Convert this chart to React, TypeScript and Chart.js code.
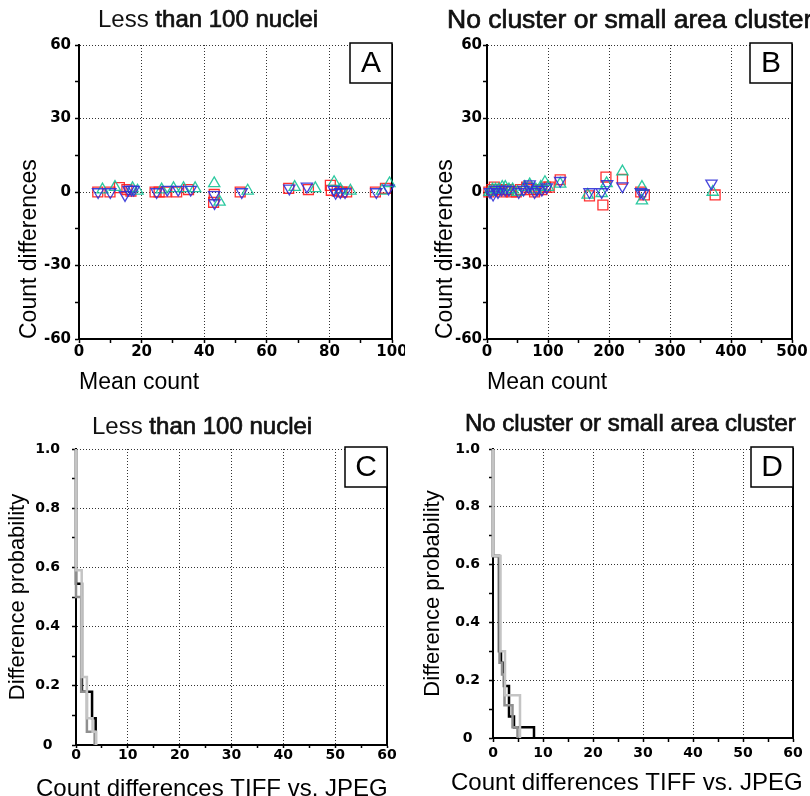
import React, { useEffect, useRef } from 'react';
import { Chart, registerables } from 'chart.js';
Chart.register(...registerables);

// ---------- Panel A: Less than 100 nuclei (mean count vs count differences) ----------
const aRedX = [6.0, 9.9, 12.9, 15.3, 16.6, 24.3, 25.6, 27.8, 31.2, 35.0, 43.2, 43.0, 51.5, 67.0, 73.3, 80.3, 80.6, 82.5, 84.0, 85.5, 94.7, 97.9];
const aRedY = [0, 0, 1.8, 1.0, 0.3, 0, 0, 0, 0, 1.0, -1.0, -4.2, 0, 1.5, 1.0, 2.7, 0.7, 0.3, 0, 0, 0, 1.5];
const aGreenX = [7.5, 11.5, 17.1, 18.7, 26.4, 30.2, 33.4, 37.1, 43.2, 44.9, 53.9, 68.9, 75.5, 81.5, 83.5, 86.7, 96.8, 99.2];
const aGreenY = [1, 2, 1.5, 0.5, 1, 1.5, 1.5, 1.5, 3.5, -4, 0.5, 2, 1.5, 4, 1, 0.5, 0.5, 3.5];
const aBlueX = [6.1, 10.0, 14.7, 15.8, 16.8, 17.5, 24.8, 28.2, 31.7, 35.7, 43.2, 43.3, 52.0, 67.2, 72.8, 81.4, 82.0, 83.5, 85.0, 95.0, 98.9];
const aBlueY = [0, 0, -1.2, 1, 1, 1, 0, 1, 1, 1, -1.2, -4.5, 0, 1.5, 2.3, 1, -0.3, 0, 0, 0, 1.5];

// ---------- Panel B: No cluster or small area cluster ----------
const bRedX = [3, 8, 12, 16, 20, 25, 30, 35, 40, 48, 55, 65, 72, 78, 84, 90, 96, 102, 120, 168, 190, 195, 222, 252, 258, 374];
const bRedY = [0, 1, 2, 1, 1, 0, 1, 1, 0, 0, 1, 2, 1, 0, 1, 1, 2, 2, 5, -1.6, -5.3, 6.1, 5.2, 0, -1.2, -1.2];
const bGreenX = [4, 9, 14, 19, 25, 30, 36, 42, 50, 62, 70, 80, 88, 95, 100, 120, 165, 188, 196, 222, 254, 254, 370];
const bGreenY = [0, 1, 1, 1, 2, 2, 1, 1, 0, 2, 3, 1, 2, 4, 2, 3.3, -1.2, -0.5, 3.5, 8.3, 2, -3.5, 0];
const bBlueX = [5, 10, 14, 18, 24, 30, 36, 52, 60, 68, 70, 78, 82, 90, 98, 120, 168, 188, 197, 222, 252, 256, 368];
const bBlueY = [0, -1, 1, 0, 1, 1, 1, 0, 1, 2.2, 3.2, 0, 1, 1, 2, 4.6, 0, 0, 3.3, 2.4, 0, -0.5, 3.5];

// ---------- Panel C: step curves (difference probability) ----------
const cLightX = [0, 0, 1.1, 2.1, 3.2, 3.9];
const cLightY = [1, 0.59, 0.23, 0.09, 0.045, 0];
const cGrayX = [0, 0, 1.0, 2.1, 3.6];
const cGrayY = [1, 0.5, 0.18, 0.045, 0];
const cBlackX = [0, 0, 1.15, 3.1, 3.8];
const cBlackY = [1, 0.545, 0.18, 0.09, 0];

// ---------- Panel D ----------
const dLightX = [0, 0, 1.5, 2.4, 5.4];
const dLightY = [1, 0.63, 0.3, 0.148, 0];
const dGrayX = [0, 0, 1.3, 1.8, 2.3, 3.9, 4.9];
const dGrayY = [1, 0.63, 0.26, 0.22, 0.113, 0.037, 0];
const dBlackX = [0, 0, 1.2, 1.6, 2.2, 3.2, 4.2, 8.2];
const dBlackY = [1, 0.63, 0.3, 0.26, 0.18, 0.074, 0.037, 0];

// ---------- text ----------
const titleLess = ['Less', ' than 100 nuclei'];
const titleCluster = 'No cluster or small area cluster';
const meanCountLabel = 'Mean count';
const countDiffLabel = 'Count differences';
const diffProbLabel = 'Difference probability';
const tiffJpegLabel = 'Count differences TIFF vs. JPEG';

const TITLE_FAMILY = '"Liberation Sans", Arial, Helvetica, sans-serif';
const TICK_FAMILY = '"DejaVu Sans", sans-serif';

const pts = (xs: number[], ys: number[]) => xs.map((x, i) => ({ x, y: ys[i] }));

const decorPlugin = {
  id: 'panelDecor',
  afterDraw(chart: any, _args: any, opts: any) {
    const ctx = chart.ctx;
    ctx.save();
    ctx.textBaseline = 'middle';
    ctx.textAlign = 'left';
    ctx.fillStyle = '#111';
    ctx.strokeStyle = '#111';
    let cx = opts.x;
    for (const p of opts.parts) {
      ctx.font = `${opts.size}px ${TITLE_FAMILY}`;
      ctx.fillText(p.text, cx, opts.y);
      if (p.heavy) {
        ctx.lineWidth = 0.7;
        ctx.strokeText(p.text, cx, opts.y);
      }
      cx += ctx.measureText(p.text).width;
    }
    if (opts.extra) {
      const e = opts.extra;
      ctx.fillStyle = '#000';
      ctx.font = `${e.size}px ${TITLE_FAMILY}`;
      ctx.textAlign = 'left';
      ctx.fillText(e.text, e.x, e.y);
    }
    const ca = chart.chartArea;
    const bw = 42, bh = 40;
    const bx = ca.right - bw, by = ca.top - 2;
    ctx.fillStyle = '#fff';
    ctx.fillRect(bx, by, bw, bh);
    ctx.lineWidth = 1.5;
    ctx.strokeStyle = '#000';
    ctx.strokeRect(bx, by, bw, bh);
    ctx.fillStyle = '#000';
    ctx.font = `30px ${TITLE_FAMILY}`;
    ctx.textAlign = 'center';
    ctx.fillText(opts.letter, bx + bw / 2, by + bh / 2 + 1);
    ctx.restore();
  },
};

const zeroPad = (s: any) => {
  s.paddingLeft = 0;
  s.paddingRight = 0;
  s.paddingTop = 0;
  s.paddingBottom = 0;
};

const isMult = (v: number, m: number) => Math.abs(v / m - Math.round(v / m)) < 1e-6;

function buildConfig(spec: any): any {
  const {
    w, h, left, right, top, bottom,
    xMin, xMax, xStep, xEvery, yMin, yMax, yStep, yEvery, yFmt,
    xTitle, xTitleSize, xTitleAlign, xTitlePad, xTitleShow,
    yTitle, yTitleSize, yTitleAlign, yTitlePad,
    xTickLen, xTickPad, yTickPad, yCross, tickSize,
    parts, tx, ty, tsize, extra, letter, datasets, type,
  } = spec;
  return {
    type,
    data: { datasets },
    plugins: [decorPlugin],
    options: {
      responsive: false,
      animation: false,
      events: [],
      layout: { padding: { left: 0, right: 0, top, bottom: 0 } },
      plugins: {
        legend: { display: false },
        tooltip: { enabled: false },
        panelDecor: { parts, x: tx, y: ty, size: tsize, extra, letter },
      },
      scales: {
        x: {
          type: 'linear',
          position: 'bottom',
          min: xMin,
          max: xMax,
          ticks: {
            stepSize: xStep,
            autoSkip: false,
            maxRotation: 0,
            minRotation: 0,
            padding: xTickPad,
            color: '#000',
            font: { family: TICK_FAMILY, weight: 'bold', size: tickSize },
            callback: (v: number) => (isMult(v, xEvery) ? String(Math.round(v)) : ''),
          },
          grid: {
            color: (c: any) => (c.tick && isMult(c.tick.value, xEvery) ? '#333' : 'rgba(0,0,0,0)'),
            lineWidth: 1,
            drawTicks: true,
            tickLength: xTickLen,
            tickColor: '#000',
            tickWidth: 1.5,
          },
          border: { display: true, color: '#000', width: 2, dash: [1, 2] },
          title: {
            display: xTitleShow,
            text: xTitle,
            align: xTitleAlign,
            color: '#000',
            font: { family: TITLE_FAMILY, size: xTitleSize, weight: 'normal' },
            padding: { top: 0, bottom: xTitlePad },
          },
          afterFit: (s: any) => {
            s.height = h - bottom;
            zeroPad(s);
          },
        },
        y: {
          type: 'linear',
          position: 'left',
          min: yMin,
          max: yMax,
          ticks: {
            stepSize: yStep,
            autoSkip: false,
            padding: yTickPad,
            crossAlign: yCross,
            color: '#000',
            font: { family: TICK_FAMILY, weight: 'bold', size: tickSize },
            callback: (v: number) => (isMult(v, yEvery) ? yFmt(v) : ''),
          },
          grid: {
            color: (c: any) => (c.tick && isMult(c.tick.value, yEvery) ? '#333' : 'rgba(0,0,0,0)'),
            lineWidth: 1,
            drawTicks: true,
            tickLength: 4,
            tickColor: '#000',
            tickWidth: 1.5,
          },
          border: { display: true, color: '#000', width: 2, dash: [1, 2] },
          title: {
            display: true,
            text: yTitle,
            align: yTitleAlign,
            color: '#000',
            font: { family: TITLE_FAMILY, size: yTitleSize, weight: 'normal' },
            padding: { top: yTitlePad, bottom: 0 },
          },
          afterFit: (s: any) => {
            s.width = left;
            zeroPad(s);
          },
        },
        yR: {
          type: 'linear',
          position: 'right',
          min: yMin,
          max: yMax,
          ticks: { display: false },
          grid: { display: false, drawOnChartArea: false, drawTicks: false },
          border: { display: true, color: '#000', width: 2 },
          afterFit: (s: any) => {
            s.width = w - right;
            zeroPad(s);
          },
        },
      },
    },
  };
}

const scatterSet = (xs: number[], ys: number[], color: string, style: string, rotation: number, radius: number) => ({
  data: pts(xs, ys),
  xAxisID: 'x',
  yAxisID: 'y',
  pointStyle: style,
  pointRotation: rotation,
  pointRadius: radius,
  pointBorderColor: color,
  pointBackgroundColor: 'rgba(0,0,0,0)',
  pointBorderWidth: 1.3,
  showLine: false,
  clip: false,
});

const stepSet = (xs: number[], ys: number[], color: string) => ({
  data: pts(xs, ys),
  xAxisID: 'x',
  yAxisID: 'y',
  borderColor: color,
  backgroundColor: color,
  borderWidth: 2.5,
  pointRadius: 0,
  stepped: 'before',
  fill: false,
  tension: 0,
  clip: false,
});

const RED = 'rgba(255,25,25,0.9)';
const GREEN = 'rgba(20,195,150,0.9)';
const BLUE = 'rgba(50,50,215,0.9)';

const intFmt = (v: number) => String(Math.round(v));
const probFmt = (v: number) => (Math.abs(v) < 1e-9 ? '0' : v.toFixed(1));

const specs = [
  {
    pos: { left: 0, top: 0 },
    type: 'scatter',
    w: 405, h: 398, left: 79, right: 392, top: 45, bottom: 339,
    xMin: 0, xMax: 100, xStep: 10, xEvery: 20,
    yMin: -60, yMax: 60, yStep: 15, yEvery: 30, yFmt: intFmt,
    xTitle: meanCountLabel, xTitleSize: 23, xTitleAlign: 'start', xTitlePad: 2, xTitleShow: true,
    yTitle: countDiffLabel, yTitleSize: 23, yTitleAlign: 'start', yTitlePad: 16,
    xTickLen: 4, xTickPad: 0, yTickPad: 4, yCross: 'near', tickSize: 15,
    parts: [{ text: titleLess[0], heavy: false }, { text: titleLess[1], heavy: true }],
    tx: 98, ty: 20, tsize: 24, extra: null, letter: 'A',
    datasets: [
      scatterSet(aBlueX, aBlueY, BLUE, 'triangle', 180, 6.5),
      scatterSet(aGreenX, aGreenY, GREEN, 'triangle', 0, 6.5),
      scatterSet(aRedX, aRedY, RED, 'rect', 0, 7),
    ],
  },
  {
    pos: { left: 405, top: 0 },
    type: 'scatter',
    w: 405, h: 398, left: 82, right: 387, top: 45, bottom: 339,
    xMin: 0, xMax: 500, xStep: 50, xEvery: 100,
    yMin: -60, yMax: 60, yStep: 15, yEvery: 30, yFmt: intFmt,
    xTitle: meanCountLabel, xTitleSize: 23, xTitleAlign: 'start', xTitlePad: 2, xTitleShow: true,
    yTitle: countDiffLabel, yTitleSize: 23, yTitleAlign: 'start', yTitlePad: 27,
    xTickLen: 4, xTickPad: 0, yTickPad: 1, yCross: 'near', tickSize: 15,
    parts: [{ text: titleCluster, heavy: true }],
    tx: 42, ty: 21, tsize: 26.5, extra: null, letter: 'B',
    datasets: [
      scatterSet(bBlueX, bBlueY, BLUE, 'triangle', 180, 6.5),
      scatterSet(bGreenX, bGreenY, GREEN, 'triangle', 0, 6.5),
      scatterSet(bRedX, bRedY, RED, 'rect', 0, 7),
    ],
  },
  {
    pos: { left: 0, top: 398 },
    type: 'line',
    w: 405, h: 410, left: 76, right: 387, top: 51, bottom: 347,
    xMin: 0, xMax: 60, xStep: 5, xEvery: 10,
    yMin: 0, yMax: 1, yStep: 0.1, yEvery: 0.2, yFmt: probFmt,
    xTitle: tiffJpegLabel, xTitleSize: 24, xTitleAlign: 'center', xTitlePad: 4.6, xTitleShow: false,
    yTitle: diffProbLabel, yTitleSize: 22, yTitleAlign: 'center', yTitlePad: 4.3,
    xTickLen: 3, xTickPad: -1, yTickPad: 12, yCross: 'center', tickSize: 14,
    parts: [{ text: titleLess[0], heavy: false }, { text: titleLess[1], heavy: true }],
    tx: 92, ty: 29, tsize: 24,
    extra: { text: tiffJpegLabel, x: 36, y: 391, size: 24 },
    letter: 'C',
    datasets: [
      stepSet(cLightX, cLightY, '#c4c4c4'),
      stepSet(cGrayX, cGrayY, '#8f8f8f'),
      stepSet(cBlackX, cBlackY, '#000000'),
    ],
  },
  {
    pos: { left: 405, top: 398 },
    type: 'line',
    w: 405, h: 410, left: 88, right: 388, top: 51, bottom: 340,
    xMin: 0, xMax: 60, xStep: 5, xEvery: 10,
    yMin: 0, yMax: 1, yStep: 0.1, yEvery: 0.2, yFmt: probFmt,
    xTitle: tiffJpegLabel, xTitleSize: 24, xTitleAlign: 'center', xTitlePad: 10.6, xTitleShow: false,
    yTitle: diffProbLabel, yTitleSize: 22, yTitleAlign: 'center', yTitlePad: 14.8,
    xTickLen: 4, xTickPad: 3, yTickPad: 9, yCross: 'center', tickSize: 14,
    parts: [{ text: titleCluster, heavy: true }],
    tx: 60, ty: 26, tsize: 24,
    extra: { text: tiffJpegLabel, x: 46, y: 385, size: 24 },
    letter: 'D',
    datasets: [
      stepSet(dLightX, dLightY, '#c4c4c4'),
      stepSet(dGrayX, dGrayY, '#8f8f8f'),
      stepSet(dBlackX, dBlackY, '#000000'),
    ],
  },
];

function Panel({ spec }: { spec: any }) {
  const ref = useRef<HTMLCanvasElement | null>(null);
  useEffect(() => {
    if (!ref.current) return;
    const chart = new Chart(ref.current, buildConfig(spec));
    return () => chart.destroy();
  }, [spec]);
  return (
    <canvas
      ref={ref}
      width={spec.w}
      height={spec.h}
      style={{ position: 'absolute', left: spec.pos.left, top: spec.pos.top, width: spec.w, height: spec.h }}
    />
  );
}

export default function App() {
  return (
    <div
      style={{
        position: 'fixed',
        left: 0,
        top: 0,
        width: 810,
        height: 796,
        overflow: 'hidden',
        background: '#fff',
      }}
    >
      {specs.map((s, i) => (
        <Panel key={i} spec={s} />
      ))}
    </div>
  );
}
